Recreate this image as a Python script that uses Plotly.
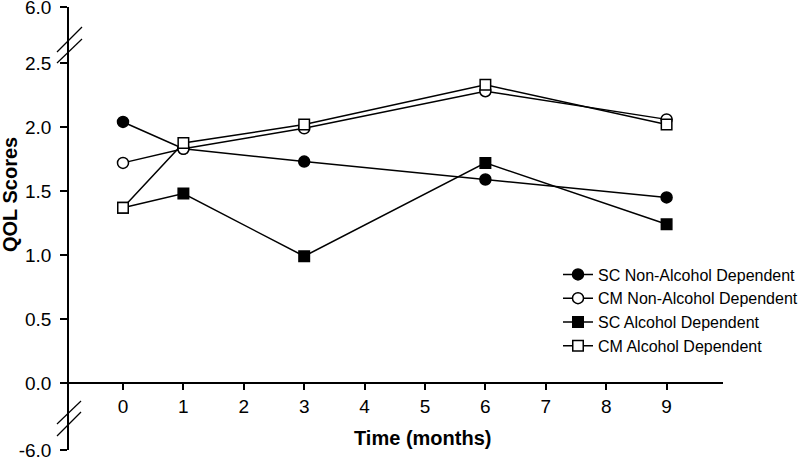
import plotly.graph_objects as go

# ---- data ----
months = [0, 1, 3, 6, 9]
sc_non_alc = [2.04, 1.83, 1.73, 1.59, 1.45]
cm_non_alc = [1.72, 1.83, 1.99, 2.28, 2.06]
sc_alc = [1.37, 1.48, 0.99, 1.72, 1.24]
cm_alc = [1.37, 1.875, 2.02, 2.33, 2.02]

series_names = ["SC Non-Alcohol Dependent", "CM Non-Alcohol Dependent",
                "SC Alcohol Dependent", "CM Alcohol Dependent"]

x_tickvals = list(range(0, 10))
# broken axis: the outer ticks (-6.0 and 6.0) sit at the ends of the axis
y_break_low = -0.5234
y_break_high = 2.9375
y_tickvals = [y_break_low, 0.0, 0.5, 1.0, 1.5, 2.0, 2.5, y_break_high]
y_ticktext = ["-6.0", "0.0", "0.5", "1.0", "1.5", "2.0", "2.5", "6.0"]

# ---- layout geometry (pixels) ----
W, H = 800, 457
L, R, T, B = 69, 723, 7, 450


def px(xp):
    return (xp - L) / (R - L)


def py(yp):
    return (B - yp) / (B - T)


FONT = "Liberation Sans, Arial, sans-serif"

fig = go.Figure()
styles = [
    dict(symbol="circle", size=11, color="black", line=dict(color="black", width=1.5)),
    dict(symbol="circle", size=11, color="white", line=dict(color="black", width=1.5)),
    dict(symbol="square", size=10.5, color="black", line=dict(color="black", width=1.5)),
    dict(symbol="square", size=10.5, color="white", line=dict(color="black", width=1.5)),
]
for name, ys, mk in zip(series_names, [sc_non_alc, cm_non_alc, sc_alc, cm_alc], styles):
    fig.add_trace(go.Scatter(x=months, y=ys, name=name, mode="lines+markers",
                             line=dict(color="black", width=1.5), marker=mk))

fig.update_layout(
    width=W, height=H,
    margin=dict(l=L, r=W - R, t=T, b=H - B, pad=0, autoexpand=False),
    paper_bgcolor="white", plot_bgcolor="white",
    font=dict(family=FONT, color="black"),
    showlegend=True,
    legend=dict(x=px(558), y=py(257.5), xanchor="left", yanchor="top",
                bgcolor="rgba(0,0,0,0)", font=dict(size=16, family=FONT),
                tracegroupgap=0, itemsizing="trace"),
    xaxis=dict(range=[-0.894, 9.934], anchor="free", position=py(383),
               tickvals=x_tickvals, showline=True, linecolor="black", linewidth=1.5,
               ticks="outside", ticklen=6, tickwidth=1.5, tickcolor="black",
               tickfont=dict(size=19, family=FONT), showgrid=False, zeroline=False,
               automargin=False, ticklabeloverflow="allow"),
    yaxis=dict(range=[y_break_low - 0.001, y_break_high + 0.001],
               tickvals=y_tickvals, ticktext=y_ticktext,
               showline=True, linecolor="black", linewidth=1.5,
               ticks="outside", ticklen=7, tickwidth=1.5, tickcolor="black",
               ticklabelstandoff=5, ticklabeloverflow="allow",
               tickfont=dict(size=19, family=FONT), showgrid=False, zeroline=False,
               automargin=False),
    annotations=[
        dict(text="<b>QOL Scores</b>", x=px(10), y=py(195), xref="paper", yref="paper",
             textangle=-90, showarrow=False, xanchor="center", yanchor="middle",
             font=dict(size=20, family=FONT)),
        dict(text="<b>Time (months)</b>", x=px(422), y=py(438), xref="paper", yref="paper",
             showarrow=False, xanchor="center", yanchor="middle",
             font=dict(size=20, family=FONT)),
    ],
)

# axis break marks (double slashes)
breaks = [((57, 52), (82, 27)), ((57, 63), (82, 39)),
          ((57, 424), (81, 401)), ((57, 436), (81, 412))]
for (x0, y0), (x1, y1) in breaks:
    fig.add_shape(type="line", xref="paper", yref="paper",
                  x0=px(x0), y0=py(y0), x1=px(x1), y1=py(y1),
                  line=dict(color="black", width=1.2))

fig.write_html("out.html", config={"displayModeBar": False},
               post_script="document.body.style.margin='0';")
